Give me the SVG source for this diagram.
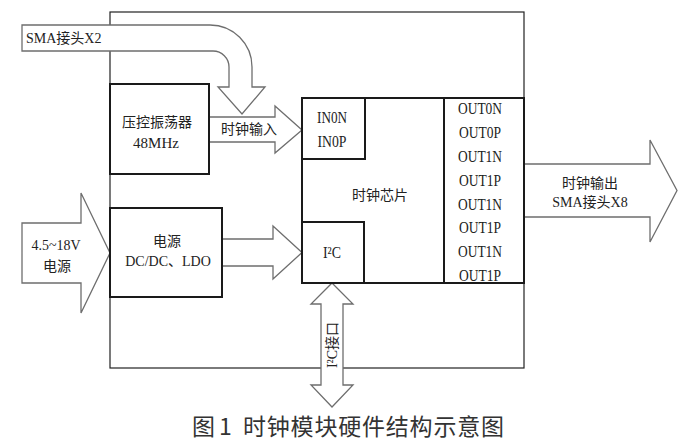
<svg xmlns="http://www.w3.org/2000/svg" width="698" height="445" viewBox="0 0 698 445">
<style>
.frame{fill:none;stroke:#222;stroke-width:1.2}
.box{fill:#fff;stroke:#1a1a1a;stroke-width:2}
.arr{fill:#fff;stroke:#6e6e6e;stroke-width:1.3;stroke-linejoin:miter}
.t{font-family:"Liberation Serif","Noto Sans CJK SC",serif;font-size:14px;fill:#222;text-anchor:middle}
.o{font-family:"Liberation Serif","Noto Sans CJK SC",serif;font-size:16px;fill:#222;text-anchor:middle}
.cap{font-family:"Noto Sans CJK SC","Liberation Sans",sans-serif;font-size:23px;fill:#333}
</style>
<rect width="698" height="445" fill="#fff"/>
<g id="module-frame">
<rect class="frame" x="110" y="12" width="414" height="356"/>
</g>
<g id="connectors">
<path id="sma-in" class="arr" d="M22,25 L210,25 A42,42 0 0 1 252,67 L252,87 L265,87 L242,114 L218,87 L229,87 L229,67 A16,16 0 0 0 213,51 L22,51 Z"/>
<path id="clk-in" class="arr" d="M209,117 L275,117 L275,106 L302,130 L275,153 L275,142 L209,142"/>
<path id="pwr-in" class="arr" d="M22,223 L81,223 L81,193 L110,253 L81,313 L81,283 L22,283 Z"/>
<path id="pwr-out" class="arr" d="M222,239 L273,239 L273,226 L302,252.5 L273,279 L273,266 L222,266"/>
<path id="clk-out" class="arr" d="M524,164 L650,164 L650,140 L677,190.5 L650,242 L650,217 L524,217"/>
<path id="i2c-bus" class="arr" d="M332,283 L353,304 L343,304 L343,385 L353,385 L332,407 L311,385 L321,385 L321,304 L311,304 Z"/>
<text class="t" x="249" y="134">时钟输入</text>
<text class="t" x="590" y="188">时钟输出</text>
<text class="t" x="590" y="207">SMA接头X8</text>
<text class="t" x="56" y="250">4.5~18V</text>
<text class="t" x="57" y="271">电源</text>
<text class="t" style="text-anchor:start" x="26" y="42.5">SMA接头X2</text>
<text class="t" transform="translate(337,345) rotate(-90)">I²C接口</text>
</g>
<g id="vco">
<rect class="box" x="110" y="84" width="99" height="90"/>
<text class="t" x="157" y="127">压控振荡器</text>
<text class="t" style="font-size:15px" x="156" y="148">48MHz</text>
</g>
<g id="power">
<rect class="box" x="110" y="208" width="112" height="89"/>
<text class="t" x="167" y="246">电源</text>
<text class="t" x="168" y="266">DC/DC、LDO</text>
</g>
<g id="clock-chip">
<rect class="box" x="302" y="98" width="142" height="185"/>
<text class="t" x="380" y="200">时钟芯片</text>
</g>
<g id="chip-inputs">
<rect class="box" x="302" y="98" width="63" height="61"/>
<text class="o" x="332" y="123" textLength="30" lengthAdjust="spacingAndGlyphs">IN0N</text>
<text class="o" x="332" y="147" textLength="29" lengthAdjust="spacingAndGlyphs">IN0P</text>
</g>
<g id="chip-i2c">
<rect class="box" x="302" y="222" width="62" height="61"/>
<text class="o" x="332" y="258" textLength="18" lengthAdjust="spacingAndGlyphs">I²C</text>
</g>
<g id="chip-outputs">
<rect class="box" x="444" y="98" width="80" height="185"/>
<text class="o" x="480" y="114" textLength="44" lengthAdjust="spacingAndGlyphs">OUT0N</text>
<text class="o" x="480" y="138" textLength="42" lengthAdjust="spacingAndGlyphs">OUT0P</text>
<text class="o" x="480" y="162" textLength="44" lengthAdjust="spacingAndGlyphs">OUT1N</text>
<text class="o" x="480" y="185.5" textLength="42" lengthAdjust="spacingAndGlyphs">OUT1P</text>
<text class="o" x="480" y="209.5" textLength="44" lengthAdjust="spacingAndGlyphs">OUT1N</text>
<text class="o" x="480" y="233" textLength="42" lengthAdjust="spacingAndGlyphs">OUT1P</text>
<text class="o" x="480" y="257" textLength="44" lengthAdjust="spacingAndGlyphs">OUT1N</text>
<text class="o" x="480" y="281" textLength="42" lengthAdjust="spacingAndGlyphs">OUT1P</text>
</g>
<g id="caption">
<text class="cap" y="435"><tspan x="192">图</tspan><tspan x="219">1</tspan><tspan x="243" letter-spacing="0.8">时钟模块硬件结构示意图</tspan></text>
</g>
</svg>
